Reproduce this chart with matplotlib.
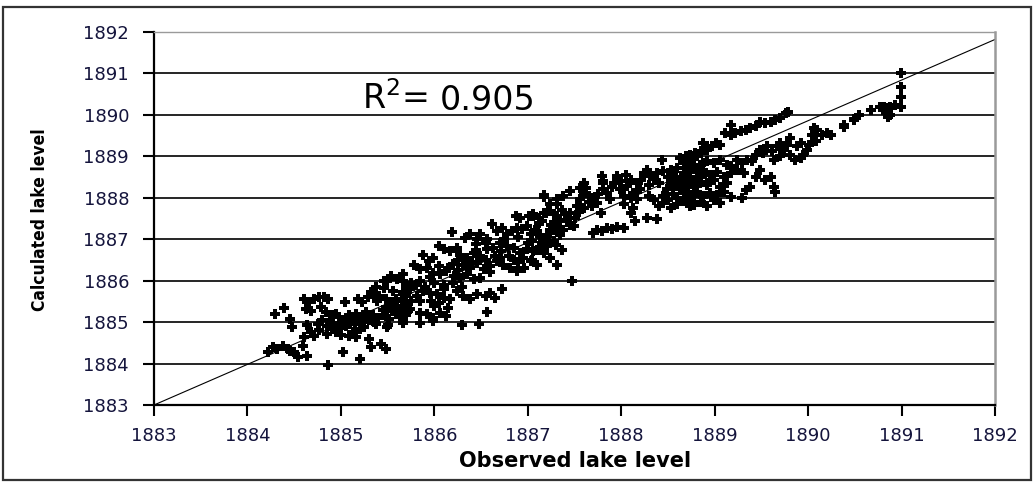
import matplotlib
matplotlib.use("Agg")
import matplotlib.pyplot as plt
from matplotlib.patches import Rectangle
import numpy as np

# ---------------- data (observed, calculated) ----------------
pts_low = [
    (1884.29,1885.2),(1884.39,1885.33),(1884.46,1885.08),(1884.48,1884.88),(1884.27,1884.39),
    (1884.38,1884.43),(1884.43,1884.35),(1884.46,1884.31),(1884.5,1884.27),(1884.54,1884.15),
    (1884.64,1884.19),(1884.59,1884.43),(1884.61,1884.63),(1884.68,1884.76),(1884.71,1884.67),
    (1884.77,1884.8),(1884.64,1884.92),(1884.22,1884.28),(1884.32,1884.35),
    (1884.61,1885.56),(1884.66,1885.48),(1884.71,1885.56),(1884.77,1885.6),(1884.82,1885.6),(1884.86,1885.56),
    (1884.63,1885.32),(1884.68,1885.28),(1884.79,1885.36),(1884.84,1885.24),
    (1884.86,1883.97),
    (1884.91,1884.84),(1884.95,1884.76),(1884.98,1884.88),(1885.02,1885.0),(1885.05,1885.04),
    (1884.88,1885.04),(1884.91,1885.16),(1884.95,1885.2),(1884.98,1885.12),
    (1885.04,1885.48),(1885.02,1884.27),(1885.2,1884.11),
    (1885.09,1884.67),(1885.13,1884.76),(1885.16,1884.63),(1885.2,1884.84),
    (1885.3,1884.59),(1885.32,1884.39),(1885.43,1884.47),(1885.48,1884.35),
    (1885.09,1885.16),(1885.16,1885.2),(1885.23,1885.12),(1885.27,1885.24),(1885.34,1885.16),
    (1885.18,1885.56),(1885.23,1885.48),(1885.29,1885.6),(1885.34,1885.68),(1885.39,1885.52),
    (1885.41,1885.64),(1885.48,1885.56),(1885.52,1885.44),(1885.59,1885.56),
    (1885.45,1885.16),(1885.52,1885.08),(1885.59,1885.2),(1885.66,1885.04),(1885.7,1885.16),
    (1885.38,1884.96),(1885.5,1884.92),
    (1885.46,1886.0),(1885.54,1886.12),(1885.63,1886.08),(1885.66,1886.16),
    (1885.32,1885.72),(1885.38,1885.84),(1885.66,1885.72),(1885.7,1885.64),(1885.73,1885.88),
    (1884.75,1884.95),(1884.8,1885.05),(1884.85,1884.9),(1884.9,1884.98),(1884.95,1884.9),
    (1885.0,1884.85),(1885.05,1884.9),(1885.1,1884.95),(1885.15,1885.0),(1885.2,1884.95),
    (1885.25,1885.0),(1885.3,1885.05),(1885.35,1885.0),(1885.25,1884.88),(1884.85,1884.72),
    (1885.0,1884.7),(1885.12,1885.08),(1885.4,1885.1),(1885.45,1885.3),(1885.55,1885.3),
    (1885.6,1885.4),(1885.65,1885.35),(1885.7,1885.45),(1885.72,1885.28),
    (1885.18,1885.1),(1885.28,1885.16),(1885.32,1885.08),(1885.22,1885.04),
]

pts_mid = [
    (1887.17,1888.02),(1887.31,1887.84),(1886.87,1887.56),(1886.92,1887.52),(1886.62,1887.37),(1886.19,1887.18),
    (1887.01,1887.56),(1887.06,1887.6),(1887.12,1887.52),(1887.17,1887.64),(1887.22,1887.68),(1887.28,1887.6),
    (1886.67,1887.2),(1886.72,1887.28),(1886.78,1887.12),(1886.83,1887.2),(1886.88,1887.28),(1886.94,1887.24),(1886.99,1887.32),
    (1887.03,1887.12),(1887.1,1887.2),(1887.17,1887.04),(1887.24,1887.16),(1887.31,1887.28),
    (1886.33,1887.04),(1886.38,1887.12),(1886.46,1887.0),(1886.49,1887.12),(1886.56,1887.0),
    (1886.05,1886.84),(1886.1,1886.76),(1886.17,1886.71),(1886.24,1886.8),
    (1885.88,1886.63),(1885.94,1886.47),(1885.99,1886.55),
    (1886.28,1886.63),(1886.35,1886.55),(1886.42,1886.67),(1886.49,1886.59),(1886.56,1886.76),(1886.63,1886.8),
    (1886.71,1886.71),(1886.78,1886.84),(1886.85,1886.8),(1886.92,1886.67),(1886.99,1886.76),(1887.06,1886.71),
    (1887.13,1886.8),(1887.21,1886.84),(1887.28,1886.96),
    (1886.31,1886.39),(1886.38,1886.31),(1886.46,1886.43),(1886.53,1886.27),(1886.6,1886.35),(1886.67,1886.47),
    (1886.74,1886.39),(1886.81,1886.31),(1886.88,1886.23),(1886.96,1886.31),(1887.03,1886.47),(1887.1,1886.39),
    (1885.78,1886.39),(1885.85,1886.27),(1885.92,1886.31),(1885.99,1886.19),(1886.06,1886.15),(1886.13,1886.23),
    (1886.21,1886.11),(1886.28,1886.07),(1886.35,1886.15),(1886.42,1886.03),(1886.49,1886.07),
    (1885.6,1886.03),(1885.63,1886.07),(1885.67,1885.99),(1885.49,1885.99),
    (1885.46,1885.83),(1885.56,1885.75),(1885.67,1885.67),
    (1885.74,1885.79),(1885.81,1885.63),(1885.88,1885.75),(1885.96,1885.51),(1886.03,1885.67),(1886.1,1885.59),(1886.17,1885.55),
    (1886.24,1885.75),(1886.31,1885.63),(1886.38,1885.55),(1886.46,1885.67),
    (1886.55,1885.63),(1886.6,1885.71),(1886.65,1885.59),(1886.72,1885.79),
    (1885.49,1885.27),(1885.56,1885.39),(1885.63,1885.19),(1885.74,1885.31),(1885.85,1885.23),(1885.92,1885.19),
    (1885.99,1885.11),(1886.06,1885.23),(1886.13,1885.15),
    (1885.49,1884.87),(1885.67,1884.99),(1885.85,1884.99),(1885.99,1885.03),
    (1886.3,1884.93),(1886.48,1884.96),(1886.56,1885.25),
    (1886.2,1886.4),(1886.25,1886.5),(1886.4,1886.45),(1886.45,1886.75),(1886.55,1886.5),(1886.65,1886.6),
    (1886.7,1886.55),(1886.8,1886.6),(1886.85,1886.5),(1886.9,1886.45),(1886.95,1886.55),(1887.0,1886.9),
    (1887.05,1886.95),(1887.15,1886.9),(1887.2,1887.0),(1886.15,1886.3),(1886.05,1886.35),(1885.95,1886.1),
    (1885.85,1886.0),(1885.75,1885.95),(1885.7,1885.85),(1885.8,1885.9),(1885.9,1885.85),(1886.0,1885.95),
    (1886.1,1885.9),(1886.2,1885.95),(1886.3,1885.85),(1886.1,1885.8),(1885.95,1885.7),(1885.85,1885.5),
    (1885.75,1885.5),(1885.65,1885.5),(1886.0,1885.4),(1886.05,1885.45),(1886.15,1885.35),(1886.25,1886.25),
    (1886.6,1886.2),(1886.7,1886.9),(1886.75,1887.0),(1886.9,1887.05),(1886.55,1886.9),(1886.45,1886.88),
]

pts_upper = [
    (1887.47,1885.99),(1887.17,1888.06),(1887.31,1886.39),(1887.37,1886.75),(1887.24,1886.55),(1887.17,1886.67),
    (1887.1,1886.75),(1887.04,1886.51),
    (1887.06,1887.55),(1887.12,1887.39),(1887.08,1887.23),(1887.13,1887.07),(1887.2,1886.91),(1887.24,1887.23),
    (1887.28,1887.39),(1887.19,1887.63),(1887.31,1887.55),(1887.37,1887.71),(1887.38,1887.23),(1887.42,1887.47),
    (1887.45,1887.63),(1887.49,1887.31),(1887.53,1887.8),(1887.56,1887.96),(1887.6,1888.12),(1887.62,1888.24),
    (1887.65,1888.04),(1887.69,1887.8),(1887.74,1887.88),(1887.78,1887.63),(1887.81,1888.36),(1887.85,1888.12),
    (1887.88,1887.96),(1887.92,1888.36),(1887.95,1888.52),(1887.99,1888.2),(1888.03,1888.04),(1888.06,1888.28),
    (1888.1,1888.44),(1888.13,1888.12),(1888.17,1887.96),
    (1887.7,1887.15),(1887.74,1887.23),(1887.79,1887.19),(1887.85,1887.27),(1887.9,1887.25),(1887.95,1887.3),(1888.03,1887.27),
    (1888.15,1887.43),(1888.28,1887.51),(1888.38,1887.49),
    (1888.4,1887.8),(1888.45,1887.88),(1888.53,1887.76),(1888.6,1887.84),(1888.67,1887.92),(1888.74,1887.84),
    (1888.78,1888.04),(1888.71,1888.12),(1888.63,1888.2),(1888.56,1888.28),(1888.49,1888.2),(1888.45,1888.04),
    (1888.24,1888.6),(1888.28,1888.68),(1888.31,1888.52),(1888.38,1888.6),(1888.45,1888.64),(1888.53,1888.68),
    (1888.6,1888.72),(1888.67,1888.84),(1888.74,1888.92),(1888.81,1889.0),(1888.85,1889.08),(1888.88,1889.32),
    (1888.92,1889.16),(1888.87,1888.84),(1888.9,1888.6),(1888.92,1888.36),(1888.88,1888.04),(1888.81,1888.28),
    (1888.74,1888.44),(1888.67,1888.52),(1888.6,1888.44),(1888.53,1888.36),(1888.44,1888.92),
    (1888.17,1888.36),(1888.21,1888.44),(1888.1,1888.0),(1888.13,1887.76),(1888.03,1887.84),(1888.1,1887.63),
    (1887.24,1887.84),(1887.31,1887.96),(1887.38,1888.04),(1887.45,1888.16),(1887.56,1888.24),(1887.6,1888.36),
    (1887.79,1888.52),(1887.81,1888.4),
    (1887.15,1887.45),(1887.25,1887.35),(1887.35,1887.45),(1887.4,1887.6),(1887.5,1887.5),(1887.55,1887.65),
    (1887.6,1887.75),(1887.65,1887.9),(1887.7,1888.0),(1887.75,1888.1),(1887.8,1888.2),(1887.9,1888.25),
    (1888.0,1888.4),(1888.05,1888.55),(1888.2,1888.2),(1888.3,1888.3),(1888.35,1888.45),(1888.4,1888.35),
    (1888.5,1888.5),(1888.55,1888.55),(1888.65,1888.3),(1888.7,1888.65),(1888.8,1888.7),(1888.85,1888.5),
    (1888.6,1888.0),(1888.5,1887.95),(1888.55,1888.1),(1888.35,1887.95),(1888.3,1888.05),(1887.45,1887.35),
    (1887.35,1887.1),(1887.3,1886.85),(1887.05,1886.95),
]

pts_high = [
    (1889.79,1890.08),(1889.76,1890.04),(1889.7,1889.92),(1889.65,1889.88),(1889.6,1889.84),(1889.54,1889.8),
    (1889.49,1889.84),(1889.44,1889.72),(1889.38,1889.68),(1889.33,1889.64),(1889.28,1889.6),(1889.22,1889.56),
    (1889.17,1889.76),(1889.17,1889.52),(1889.11,1889.56),(1889.06,1889.28),(1889.01,1889.32),(1888.97,1889.24),
    (1888.92,1889.24),(1888.88,1889.32),(1888.85,1889.12),(1888.79,1889.08),(1888.74,1889.04),(1888.69,1889.0),
    (1888.63,1888.96),
    (1890.49,1889.9),(1890.54,1890.0),(1890.38,1889.76),(1890.2,1889.56),(1890.15,1889.52),(1890.1,1889.64),
    (1890.06,1889.68),(1890.04,1889.52),(1890.08,1889.36),(1890.01,1889.28),(1889.99,1889.16),(1889.92,1889.32),
    (1889.88,1889.24),(1889.81,1889.44),(1889.77,1889.28),(1889.74,1889.16),(1889.7,1889.32),(1889.67,1889.24),
    (1889.61,1889.12),(1889.56,1889.24),(1889.52,1889.08),(1889.49,1889.16),(1889.44,1889.04),(1889.4,1888.88),
    (1889.35,1888.92),(1889.29,1888.84),(1889.24,1888.92),(1889.86,1888.92),(1889.92,1888.96),(1889.95,1889.04),
    (1889.81,1889.04),(1889.7,1889.0),(1889.63,1888.92),
    (1889.6,1888.51),(1889.54,1888.43),(1889.63,1888.27),(1889.65,1888.15),(1889.38,1888.27),(1889.33,1888.19),
    (1889.29,1887.99),(1889.44,1888.51),(1889.49,1888.67),(1889.31,1888.59),(1889.24,1888.67),(1889.17,1888.76),
    (1888.7,1888.84),(1888.78,1888.76),(1888.85,1888.8),(1888.92,1888.88),(1888.99,1888.84),(1889.06,1888.92),
    (1889.13,1888.8),(1888.67,1888.59),(1888.74,1888.63),(1888.81,1888.51),(1888.88,1888.67),(1888.95,1888.55),
    (1889.02,1888.63),(1889.1,1888.51),(1889.17,1888.59),(1888.63,1888.43),(1888.7,1888.35),(1888.78,1888.27),
    (1888.85,1888.39),(1888.92,1888.31),(1888.99,1888.43),(1889.06,1888.27),(1889.13,1888.35),(1888.67,1888.11),
    (1888.74,1888.07),(1888.81,1888.15),(1888.88,1888.03),(1888.95,1888.11),(1889.02,1888.07),(1889.1,1888.15),
    (1889.17,1888.03),(1888.7,1887.87),(1888.78,1887.83),(1888.85,1887.91),(1888.92,1887.79),(1888.99,1887.95),
    (1889.06,1887.87),(1888.74,1887.79),
    (1890.99,1891.0),(1890.99,1890.68),(1890.99,1890.44),(1890.99,1890.2),(1890.93,1890.24),(1890.88,1890.2),
    (1890.85,1890.16),(1890.81,1890.2),(1890.77,1890.2),(1890.86,1890.08),(1890.85,1889.96),(1890.88,1890.0),
    (1890.83,1890.04),(1890.67,1890.12),(1890.54,1890.0),(1890.49,1889.88),(1890.38,1889.71),(1890.24,1889.51),
]

fit_origin = 1883.0      # trend line passes through (1883, 1883)
fit_slope = 0.98
r2_prefix = r"R$^{\mathregular{2}}$="
r2_value = "0.905"

x_ticks = list(range(1883, 1893))
y_ticks = list(range(1883, 1893))
x_label = "Observed lake level"
y_label = "Calculated lake level"

# ---------------- plot ----------------
all_pts = pts_low + pts_mid + pts_upper + pts_high
observed = np.array([p[0] for p in all_pts])
calculated = np.array([p[1] for p in all_pts])

W, H = 1036, 484
fig = plt.figure(figsize=(W / 100, H / 100), dpi=100)
fig.patch.set_facecolor("white")

# outer frame around the chart
fig.patches.append(Rectangle((3 / W, 1 - 480 / H), 1028 / W, 473 / H, transform=fig.transFigure,
                             fill=False, edgecolor="#333333", linewidth=1.6))

ax = fig.add_axes([154 / W, 1 - 405 / H, (995 - 154) / W, (405 - 32) / H])
ax.set_xlim(1883, 1892)
ax.set_ylim(1883, 1892)

for yv in y_ticks[1:-1]:
    ax.axhline(yv, color="black", linewidth=1.2, zorder=1)

xs = np.array([1883.0, 1892.0])
ax.plot(xs, fit_origin + fit_slope * (xs - fit_origin), color="black", linewidth=0.8, zorder=2)

ax.scatter(observed, calculated, marker="P", s=55, color="black", linewidths=0, zorder=3)

ax.set_xticks(x_ticks)
ax.set_yticks(y_ticks)
tick_color = "#14143c"
ax.tick_params(axis="both", direction="out", length=8, width=1.5, colors="black",
               labelcolor=tick_color, labelsize=13)
ax.tick_params(axis="y", pad=10)
ax.tick_params(axis="x", pad=8)
for lab in ax.get_xticklabels() + ax.get_yticklabels():
    lab.set_family("DejaVu Sans")

ax.spines["left"].set_linewidth(1.6)
ax.spines["bottom"].set_linewidth(1.6)
ax.spines["top"].set_color("#9a9a9a")
ax.spines["top"].set_linewidth(1.0)
ax.spines["right"].set_color("#9a9a9a")
ax.spines["right"].set_linewidth(1.8)

fig.text(575 / W, 1 - 461 / H, x_label, ha="center", va="center", fontsize=15,
         fontweight="bold", family="DejaVu Sans", color="black")
fig.text(40 / W, 1 - 220 / H, y_label, ha="center", va="center", rotation=90, fontsize=12.5,
         fontweight="bold", family="DejaVu Sans", fontstretch="condensed", color="black")

# R^2 annotation
fig.text(428 / W, 1 - 99 / H, r2_prefix, ha="right", va="center", fontsize=24,
         family="DejaVu Sans", color="black")
fig.text(440 / W, 1 - 101 / H, r2_value, ha="left", va="center", fontsize=24,
         family="DejaVu Sans", color="black")

fig.savefig("out.png", dpi=100, facecolor="white")
